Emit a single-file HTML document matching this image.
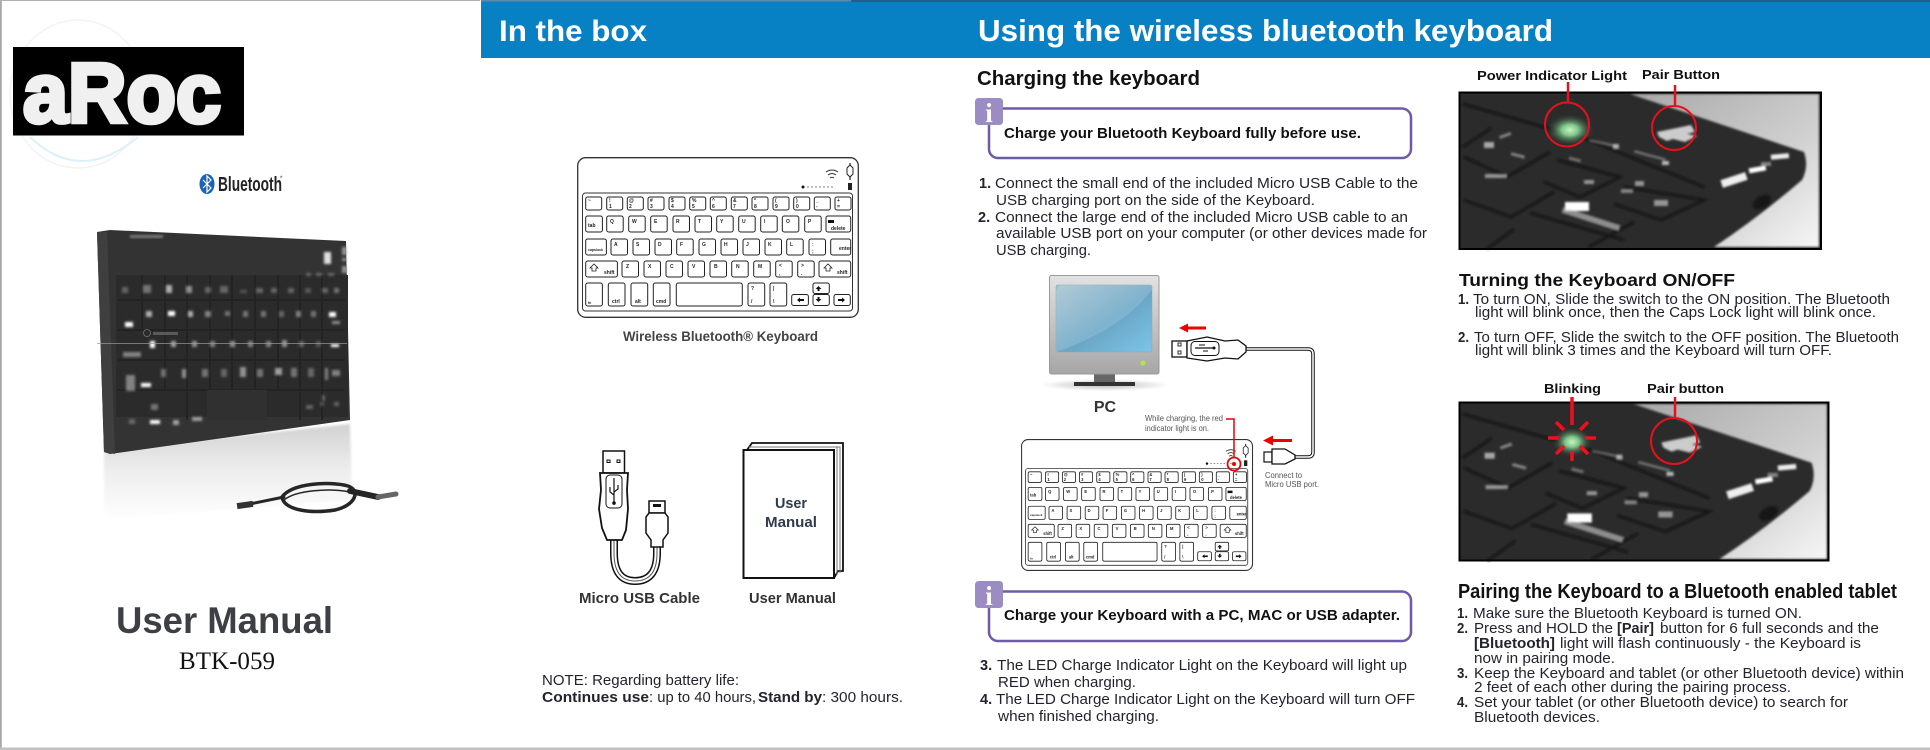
<!DOCTYPE html>
<html><head><meta charset="utf-8"><style>
html,body{margin:0;padding:0;background:#fff;width:1930px;height:750px;overflow:hidden}
svg{display:block}
text{font-family:"Liberation Sans",Arial,sans-serif;white-space:pre}
.t{font-size:14.5px;fill:#23232e}
.b{font-size:14.5px;font-weight:bold;fill:#23232e}
.h{font-weight:bold;fill:#111}
.w{font-weight:bold;fill:#fff}
.k text{font-size:5px;font-weight:bold;fill:#222}
</style></head><body>
<svg xmlns="http://www.w3.org/2000/svg" width="1930" height="750" viewBox="0 0 1930 750">
<defs>
<linearGradient id="mon" x1="0" y1="0" x2="0" y2="1"><stop offset="0" stop-color="#e2e2e2"/><stop offset="1" stop-color="#a6a6a6"/></linearGradient>
<linearGradient id="scr" x1="0" y1="0" x2="1" y2="1"><stop offset="0" stop-color="#a5c2d0"/><stop offset=".55" stop-color="#6aa6c6"/><stop offset="1" stop-color="#7cc4e8"/></linearGradient>
<linearGradient id="ref" x1="0" y1="0" x2="0" y2="1"><stop offset="0" stop-color="#d2d2d2"/><stop offset=".5" stop-color="#eeeeee"/><stop offset="1" stop-color="#fff"/></linearGradient>
<linearGradient id="lgt" x1="0" y1="0" x2="1" y2="1"><stop offset="0" stop-color="#a8a8a8"/><stop offset=".6" stop-color="#d0d0d0"/><stop offset="1" stop-color="#f6f6f6"/></linearGradient>
<radialGradient id="glow"><stop offset="0" stop-color="#c8f5c0"/><stop offset=".35" stop-color="#7ec58a"/><stop offset="1" stop-color="#2a3a2c" stop-opacity="0"/></radialGradient>
<radialGradient id="shd"><stop offset="0" stop-color="#bbb"/><stop offset="1" stop-color="#fff"/></radialGradient>
<filter id="bl1" x="-20%" y="-20%" width="140%" height="140%"><feGaussianBlur stdDeviation="1.200"/></filter>
<filter id="bl2" x="-20%" y="-20%" width="140%" height="140%"><feGaussianBlur stdDeviation="1"/></filter>

<g id="kbd">
<rect x=".7" y=".7" width="280.6" height="159.6" rx="8" fill="#fff" stroke="#333" stroke-width="1.3"/>
<rect x="5.5" y="36" width="270" height="118" rx="3" fill="#fff" stroke="#333" stroke-width="1"/>
<g class="k" fill="#fff" stroke="#222" stroke-width="1">
<rect x="8.7" y="40" width="16" height="13" rx="2"/><rect x="29.7" y="40" width="16" height="13" rx="2"/><rect x="50.3" y="40" width="16" height="13" rx="2"/><rect x="71" y="40" width="16" height="13" rx="2"/><rect x="92" y="40" width="16" height="13" rx="2"/><rect x="112.7" y="40" width="16" height="13" rx="2"/><rect x="133.3" y="40" width="16" height="13" rx="2"/><rect x="154.3" y="40" width="16" height="13" rx="2"/><rect x="175" y="40" width="16" height="13" rx="2"/><rect x="196" y="40" width="16" height="13" rx="2"/><rect x="216.7" y="40" width="16" height="13" rx="2"/><rect x="237.3" y="40" width="16" height="13" rx="2"/><rect x="258" y="40" width="16" height="13" rx="2"/>
<rect x="8.7" y="59" width="16.7" height="16" rx="2"/><rect x="29.7" y="59" width="16.5" height="16" rx="2"/><rect x="51.7" y="59" width="16.5" height="16" rx="2"/><rect x="73.7" y="59" width="16.5" height="16" rx="2"/><rect x="96" y="59" width="16.5" height="16" rx="2"/><rect x="118" y="59" width="16.5" height="16" rx="2"/><rect x="139.7" y="59" width="16.5" height="16" rx="2"/><rect x="161.7" y="59" width="16.5" height="16" rx="2"/><rect x="183.7" y="59" width="16.5" height="16" rx="2"/><rect x="205.3" y="59" width="16.5" height="16" rx="2"/><rect x="227.7" y="59" width="16.5" height="16" rx="2"/><rect x="249" y="59" width="24.7" height="16" rx="2"/>
<rect x="8.7" y="82" width="20.7" height="16" rx="2"/><rect x="34" y="82" width="16.5" height="16" rx="2"/><rect x="56" y="82" width="16.5" height="16" rx="2"/><rect x="78" y="82" width="16.5" height="16" rx="2"/><rect x="99.7" y="82" width="16.5" height="16" rx="2"/><rect x="122" y="82" width="16.5" height="16" rx="2"/><rect x="144" y="82" width="16.5" height="16" rx="2"/><rect x="166" y="82" width="16.5" height="16" rx="2"/><rect x="188" y="82" width="16.5" height="16" rx="2"/><rect x="209.7" y="82" width="16.5" height="16" rx="2"/><rect x="232" y="82" width="16.5" height="16" rx="2"/><rect x="253.7" y="82" width="20" height="16" rx="2"/>
<rect x="8.7" y="104" width="31.7" height="16" rx="2"/><rect x="45" y="104" width="16.5" height="16" rx="2"/><rect x="67" y="104" width="16.5" height="16" rx="2"/><rect x="89" y="104" width="16.5" height="16" rx="2"/><rect x="111" y="104" width="16.5" height="16" rx="2"/><rect x="133" y="104" width="16.5" height="16" rx="2"/><rect x="154.7" y="104" width="16.5" height="16" rx="2"/><rect x="176.7" y="104" width="16.5" height="16" rx="2"/><rect x="198.7" y="104" width="16.5" height="16" rx="2"/><rect x="220.7" y="104" width="16.5" height="16" rx="2"/><rect x="242" y="104" width="31.7" height="16" rx="2"/>
<rect x="8.7" y="126" width="16.7" height="23" rx="2"/><rect x="31.3" y="126" width="16.7" height="23" rx="2"/><rect x="54" y="126" width="16.7" height="23" rx="2"/><rect x="76.3" y="126" width="16.7" height="23" rx="2"/><rect x="99.3" y="126" width="66" height="23" rx="2"/><rect x="171" y="126" width="16.7" height="23" rx="2"/><rect x="193" y="126" width="16.7" height="23" rx="2"/><rect x="214.7" y="137.5" width="16.7" height="11" rx="2"/><rect x="236" y="126" width="16.3" height="10.5" rx="2"/><rect x="236" y="137.5" width="16.3" height="11" rx="2"/><rect x="257" y="137.5" width="16.3" height="11" rx="2"/>
<g stroke="none">
<text x="11" y="45">~</text><text x="32" y="45">!</text><text x="32" y="51">1</text><text x="52" y="45">@</text><text x="52" y="51">2</text><text x="73" y="45">#</text><text x="73" y="51">3</text><text x="94" y="45">$</text><text x="94" y="51">4</text><text x="115" y="45">%</text><text x="115" y="51">5</text><text x="135" y="45">^</text><text x="135" y="51">6</text><text x="156" y="45">&amp;</text><text x="156" y="51">7</text><text x="177" y="45">*</text><text x="177" y="51">8</text><text x="198" y="45">(</text><text x="198" y="51">9</text><text x="219" y="45">)</text><text x="219" y="51">0</text><text x="239" y="45">_</text><text x="239" y="51">-</text><text x="260" y="45">+</text><text x="260" y="51">=</text>
<text x="11" y="70">tab</text>
<text x="33" y="66">Q</text><text x="55" y="66">W</text><text x="77" y="66">E</text><text x="99" y="66">R</text><text x="121" y="66">T</text><text x="143" y="66">Y</text><text x="165" y="66">U</text><text x="187" y="66">I</text><text x="209" y="66">O</text><text x="231" y="66">P</text>
<text x="254" y="73">delete</text>
<text x="11" y="94" style="font-size:3.5px">capslock</text>
<text x="37" y="89">A</text><text x="59" y="89">S</text><text x="81" y="89">D</text><text x="103" y="89">F</text><text x="125" y="89">G</text><text x="147" y="89">H</text><text x="169" y="89">J</text><text x="191" y="89">K</text><text x="213" y="89">L</text><text x="235" y="89">:</text><text x="235" y="96">;</text><text x="262" y="93">enter</text>
<text x="27" y="117">shift</text><text x="49" y="111">Z</text><text x="71" y="111">X</text><text x="93" y="111">C</text><text x="115" y="111">V</text><text x="137" y="111">B</text><text x="159" y="111">N</text><text x="181" y="111">M</text><text x="202" y="110">&lt;</text><text x="202" y="118">,</text><text x="224" y="110">&gt;</text><text x="224" y="118">.</text><text x="260" y="117">shift</text>
<text x="35" y="146">ctrl</text><text x="58" y="146">alt</text><text x="79" y="146">cmd</text><text x="174" y="133">?</text><text x="174" y="146">/</text><text x="196" y="133">|</text><text x="196" y="146">\</text><text x="11" y="147" style="font-size:3.5px">fn</text>
<rect x="251" y="63" width="6" height="3" fill="#111"/>
<path d="M13 111l4-4 4 4h-2v3h-4v-3z" fill="none" stroke="#222" stroke-width=".8"/>
<path d="M247 111l4-4 4 4h-2v3h-4v-3z" fill="none" stroke="#222" stroke-width=".8"/>
<path d="M220 143l3-2.500v5zM241.500 129l3 3h-6zM244.500 142h-6l3 3zM268 143l-3-2.500v5z" fill="#111"/>
<rect x="223" y="142" width="4" height="2" fill="#111"/><rect x="261" y="142" width="4" height="2" fill="#111"/>
<rect x="240.500" y="132" width="2" height="2" fill="#111"/><rect x="240.500" y="140" width="2" height="2" fill="#111"/>
</g>
</g>
<path d="M249 15q6-4 12 0M251 18q4-3 8 0M253 21q2-1.500 4 0" fill="none" stroke="#333" stroke-width="1"/>
<circle cx="226" cy="30" r="1.500" fill="#111"/><path d="M230 30h27" stroke="#555" stroke-width=".8" stroke-dasharray="2 2"/>
<rect x="271" y="26" width="4" height="7" fill="#222"/>
<path d="M273 6v17" stroke="#222" stroke-width="1.200"/><path d="M270 11l3-3 3 3v6l-3 3-3-3z" fill="#fff" stroke="#222" stroke-width="1"/>
</g>

<g id="photo">
<rect width="362" height="157" fill="#2b2b2b"/>
<path d="M171 2L345 60Q350 75 343 88Q300 125 255 155H360V2Z" fill="url(#lgt)" filter="url(#bl2)"/>
<g fill="none" stroke="#101010" stroke-width="2.500" opacity=".75" filter="url(#bl2)">
<path d="M4 12L130 48L245 95"/>
<path d="M4 55L32 36"/>
<path d="M91 60L48 85L5 65"/>
<path d="M98 68L161 85L121 105L85 90"/>
<path d="M165 95L245 108L202 128L155 112"/>
<path d="M95 100L52 125L5 108"/>
<path d="M71 121L165 148"/>
<path d="M55 137L28 157"/>
<path d="M175 130L130 155"/>
</g>
<g fill="#dcdcdc" filter="url(#bl2)">
<rect x="25" y="50" width="10" height="6" opacity=".7"/><rect x="40" y="42" width="12" height="3" opacity=".5" transform="rotate(-20 46 43)"/>
<rect x="52" y="62" width="14" height="3" opacity=".5" transform="rotate(15 59 63)"/>
<rect x="26" y="82" width="22" height="4" opacity=".6"/>
<rect x="110" y="66" width="12" height="3" opacity=".4" transform="rotate(15 116 67)"/><rect x="125" y="88" width="10" height="4" opacity=".6"/>
<rect x="176" y="89" width="9" height="5" opacity=".6"/><rect x="162" y="97" width="12" height="4" opacity=".5"/><rect x="195" y="108" width="14" height="6" opacity=".6"/>
<rect x="106" y="110" width="24" height="9" fill="#fff"/>
<rect x="102" y="124" width="60" height="6" opacity=".55" transform="rotate(18 132 127)"/>
<rect x="130" y="50" width="28" height="2.500" opacity=".35" transform="rotate(12 144 51)"/><rect x="154" y="52" width="6" height="5" opacity=".7"/>
<rect x="175" y="62" width="32" height="2.500" opacity=".4" transform="rotate(15 190 63)"/><rect x="203" y="69" width="7" height="4" opacity=".8"/>
<rect x="262" y="84" width="26" height="8" fill="#eee" transform="rotate(-18 275 88)"/><rect x="290" y="75" width="17" height="5" fill="#fff" transform="rotate(-10 298 78)"/><rect x="312" y="62" width="18" height="5" fill="#eee" transform="rotate(-5 320 65)"/><rect x="302" y="70" width="10" height="4" opacity=".5"/>
</g>
<ellipse cx="303" cy="110" rx="10" ry="6" fill="#161616" transform="rotate(-30 303 110)" filter="url(#bl2)"/>
<g fill="#f4f4f4" filter="url(#bl2)">
<path d="M198 40L232 33L236 40L228 42L238 44L226 50L214 47L208 49L200 45Z" opacity=".8"/>
</g>
</g>
</defs>

<!-- frame -->
<rect width="1930" height="750" fill="#fff"/>
<rect x="0" y="0" width="1.800" height="750" fill="#a8a8a8"/>
<rect x="0" y="0" width="480" height="1" fill="#b0b0b0"/>
<rect x="0" y="747.500" width="1930" height="2.500" fill="#c0c0c0"/>

<!-- COVER -->
<ellipse cx="78" cy="94" rx="68" ry="74" fill="none" stroke="#f3f3f3" stroke-width="1.500"/>
<path d="M30 137Q80 185 138 137" fill="none" stroke="#dcf0fa" stroke-width="2"/>
<rect x="13" y="47" width="231" height="88.500" fill="#000"/>
<text x="23" y="122" font-size="84" font-weight="bold" fill="#f0f0f0" stroke="#f0f0f0" stroke-width="4.500" textLength="198" lengthAdjust="spacingAndGlyphs">aRoc</text>

<ellipse cx="207" cy="184" rx="7.500" ry="10" fill="#1a63b8"/>
<path d="M203 180l8 8-4 4v-16l4 4-8 8" fill="none" stroke="#fff" stroke-width="1.200"/>
<text x="218" y="191" font-size="20" font-weight="bold" fill="#222" textLength="64" lengthAdjust="spacingAndGlyphs">Bluetooth</text>
<text x="280" y="180" font-size="6" fill="#222">*</text>

<polygon points="104,450 350,424 352,500 104,520" fill="url(#ref)" filter="url(#bl1)"/>
<polygon points="97,232 110,230 346,241 350,420 110,454 104,452" fill="#333"/>
<polygon points="97,232 107,232 115,454 104,452" fill="#3f3f3f"/>
<rect x="116" y="275" width="232" height="142" fill="#2b2b2b"/>
<g fill="none" stroke="#232323" stroke-width="2">
<path d="M118 300H345M118 330H345M118 360H345M118 390H345"/>
<path d="M142 275V330M165 275V390M187 275V420M210 275V390M232 275V390M255 275V420M278 275V390M300 275V420M322 275V420"/>
</g>
<rect x="207" y="390" width="60" height="30" fill="#303030"/>
<g fill="#bcbcbc" filter="url(#bl1)">
<rect x="122" y="287" width="6" height="6" opacity=".4"/><rect x="143" y="285" width="8" height="8" opacity=".5"/><rect x="166" y="285" width="6" height="8" opacity=".9"/><rect x="186" y="286" width="6" height="7" opacity=".7"/><rect x="205" y="287" width="6" height="6" opacity=".4"/><rect x="220" y="286" width="8" height="7" opacity=".4"/><rect x="240" y="290" width="7" height="3" opacity=".3"/><rect x="256" y="288" width="7" height="5" opacity=".4"/><rect x="271" y="288" width="6" height="5" opacity=".4"/><rect x="288" y="288" width="6" height="5" opacity=".4"/><rect x="305" y="288" width="6" height="5" opacity=".3"/><rect x="322" y="288" width="6" height="5" opacity=".4"/><rect x="334" y="288" width="5" height="5" opacity=".5"/>
<rect x="125" y="322" width="8" height="5" fill="#fff"/><rect x="146" y="311" width="6" height="6" opacity=".9"/><rect x="168" y="311" width="7" height="5" fill="#fff"/><rect x="188" y="311" width="5" height="6" opacity=".9"/><rect x="205" y="311" width="6" height="6" opacity=".6"/><rect x="225" y="311" width="5" height="5" opacity=".5"/><rect x="243" y="311" width="5" height="6" opacity=".5"/><rect x="261" y="311" width="5" height="6" opacity=".5"/><rect x="279" y="311" width="5" height="6" opacity=".4"/><rect x="296" y="311" width="5" height="6" opacity=".6"/><rect x="311" y="311" width="5" height="6" opacity=".5"/><rect x="329" y="312" width="7" height="5" fill="#fff"/><rect x="332" y="321" width="8" height="3" opacity=".7"/>
<rect x="123" y="352" width="18" height="5" opacity=".6"/><rect x="150" y="341" width="5" height="7" fill="#fff"/><rect x="171" y="341" width="5" height="6" opacity=".8"/><rect x="192" y="341" width="5" height="6" opacity=".7"/><rect x="210" y="341" width="5" height="6" opacity=".6"/><rect x="230" y="341" width="5" height="6" opacity=".7"/><rect x="248" y="341" width="5" height="6" opacity=".6"/><rect x="266" y="341" width="5" height="6" opacity=".6"/><rect x="282" y="340" width="5" height="7" opacity=".7"/><rect x="299" y="341" width="5" height="6" opacity=".4"/><rect x="316" y="341" width="5" height="6" opacity=".3"/><rect x="331" y="344" width="8" height="3" fill="#fff"/>
<rect x="161" y="369" width="5" height="8" opacity=".5"/><rect x="182" y="369" width="4" height="9" opacity=".7"/><rect x="202" y="369" width="6" height="8" opacity=".5"/><rect x="221" y="369" width="6" height="8" opacity=".4"/><rect x="240" y="367" width="6" height="10" opacity=".7"/><rect x="257" y="369" width="6" height="8" opacity=".5"/><rect x="275" y="368" width="7" height="7" opacity=".8"/><rect x="291" y="368" width="6" height="9" opacity=".5"/><rect x="308" y="368" width="6" height="9" opacity=".4"/><rect x="325" y="368" width="3" height="12" opacity=".6"/><rect x="332" y="370" width="8" height="6" opacity=".6"/>
<rect x="126" y="375" width="9" height="16" opacity=".6"/><rect x="141" y="383" width="10" height="4" fill="#fff"/>
<rect x="129" y="419" width="6" height="5" opacity=".4"/><rect x="151" y="404" width="7" height="6" opacity=".5"/><rect x="150" y="420" width="10" height="4" fill="#fff"/><rect x="173" y="420" width="6" height="5" opacity=".8"/><rect x="192" y="417" width="10" height="4" opacity=".8"/><rect x="306" y="405" width="7" height="4" opacity=".4"/><rect x="320" y="402" width="4" height="4" opacity=".3"/><rect x="334" y="402" width="5" height="4" opacity=".4"/><rect x="322" y="395" width="3" height="6" opacity=".4"/>
<rect x="324" y="252" width="7" height="12" fill="#e0e0e0"/><rect x="306" y="273" width="5" height="3" opacity=".4"/><rect x="316" y="273" width="6" height="3" opacity=".4"/><rect x="328" y="273" width="6" height="3" opacity=".4"/>
<rect x="342" y="247" width="5" height="8" opacity=".7"/><rect x="342" y="258" width="5" height="3" opacity=".7"/><rect x="342" y="266" width="5" height="7" opacity=".7"/>
</g>
<rect x="97" y="343" width="250" height=".7" fill="#9a9a9a"/>
<circle cx="147" cy="333" r="3.500" fill="none" stroke="#777" stroke-width=".8"/><rect x="153" y="332" width="25" height="3" fill="#5a5a5a"/>
<rect x="130" y="235" width="33" height="3" fill="#777" filter="url(#bl2)"/>
<g fill="none" stroke="#262626" stroke-linecap="round">
<path d="M245 505L284 497" stroke-width="3"/>
<path d="M282 497C292 483 330 481 348 486C362 491 354 506 335 510C310 514 284 510 282 497Z" stroke-width="3.500"/>
<path d="M284 500C296 490 330 488 350 492" stroke-width="1.500"/>
<path d="M350 491L378 497" stroke-width="6"/>
<path d="M378 497L396 494" stroke="#666" stroke-width="5"/>
</g>
<rect x="237" y="502" width="16" height="6" fill="#333" transform="rotate(-8 245 505)"/>

<text x="116" y="633" font-size="37" font-weight="bold" fill="#3d3f44" textLength="217" lengthAdjust="spacingAndGlyphs">User Manual</text>
<text x="179" y="669" font-size="25" fill="#111" style='font-family:"Liberation Serif",serif' textLength="96" lengthAdjust="spacingAndGlyphs">BTK-059</text>

<!-- BANDS -->
<rect x="481" y="0" width="1449" height="58" fill="#0880c4"/>
<rect x="481" y="0" width="370" height="1.500" fill="#5f8aa8"/>
<rect x="851" y="0" width="1079" height="2" fill="#1f5f8e"/>
<text class="w" x="499" y="41" font-size="30" textLength="148" lengthAdjust="spacingAndGlyphs">In the box</text>
<text class="w" x="978" y="41" font-size="31" textLength="575" lengthAdjust="spacingAndGlyphs">Using the wireless bluetooth keyboard</text>

<!-- IN THE BOX -->
<use href="#kbd" x="577" y="157"/>
<text x="623" y="341" font-size="14" font-weight="bold" fill="#444" textLength="195" lengthAdjust="spacingAndGlyphs">Wireless Bluetooth® Keyboard</text>

<path d="M614 540V553Q614 581 635 581Q657 581 657 553V547" fill="none" stroke="#111" stroke-width="8"/>
<path d="M614 540V553Q614 581 635 581Q657 581 657 553V547" fill="none" stroke="#fff" stroke-width="5"/>
<path d="M614 540V553Q614 581 635 581Q657 581 657 553V547" fill="none" stroke="#555" stroke-width="1"/>
<rect x="603" y="451" width="21.500" height="22" fill="#fff" stroke="#111" stroke-width="1.500"/>
<rect x="607" y="460" width="3" height="2.500" fill="none" stroke="#111"/><rect x="617" y="460" width="3" height="2.500" fill="none" stroke="#111"/>
<path d="M600 473H628L627 490L628 509L626 530L622 540H607L602 528L599 509L601 490Z" fill="#fff" stroke="#111" stroke-width="1.800"/>
<rect x="606" y="475" width="16" height="33" rx="4" fill="#fff" stroke="#111" stroke-width="1"/>
<path d="M614 478V505M610 487v5l4 3M618 485v4l-4 3" fill="none" stroke="#111" stroke-width="1.200"/><circle cx="614" cy="503" r="1.800" fill="#111"/>
<rect x="649" y="501" width="16" height="12" fill="#fff" stroke="#111" stroke-width="1.500"/><rect x="653" y="504" width="8" height="3" fill="#111"/>
<path d="M649 513H665L668 517V533L663 540V547H651V540L646 533V517Z" fill="#fff" stroke="#111" stroke-width="1.500"/>

<path d="M747 450L752 443H843V571H838L834 578" fill="#fff" stroke="#111" stroke-width="1.800"/>
<path d="M749 447H840V573M837 447V575" fill="none" stroke="#777" stroke-width="1"/>
<rect x="743.500" y="450" width="90.500" height="128" fill="#fff" stroke="#111" stroke-width="2"/>
<text x="791" y="508" text-anchor="middle" font-size="15" font-weight="bold" fill="#2f3b4c" textLength="32" lengthAdjust="spacingAndGlyphs">User</text>
<text x="791" y="527" text-anchor="middle" font-size="15" font-weight="bold" fill="#2f3b4c" textLength="52" lengthAdjust="spacingAndGlyphs">Manual</text>
<text x="579" y="603" font-size="15" font-weight="bold" fill="#333" textLength="121" lengthAdjust="spacingAndGlyphs">Micro USB Cable</text>
<text x="749" y="603" font-size="15" font-weight="bold" fill="#333" textLength="87" lengthAdjust="spacingAndGlyphs">User Manual</text>
<text class="t" x="542" y="685" textLength="197" lengthAdjust="spacingAndGlyphs" fill="#333">NOTE: Regarding battery life:</text>
<text class="b" x="542" y="702" textLength="107" lengthAdjust="spacingAndGlyphs">Continues use</text>
<text class="t" x="649" y="702" textLength="107" lengthAdjust="spacingAndGlyphs">: up to 40 hours,</text>
<text class="b" x="758" y="702" textLength="64" lengthAdjust="spacingAndGlyphs">Stand by</text>
<text class="t" x="822" y="702" textLength="81" lengthAdjust="spacingAndGlyphs">: 300 hours.</text>

<!-- CHARGING -->
<text class="h" x="977" y="85" font-size="20" textLength="223" lengthAdjust="spacingAndGlyphs">Charging the keyboard</text>
<rect x="989" y="108.500" width="422" height="49.500" rx="9" fill="#fff" stroke="#6f5aa8" stroke-width="2.500"/>
<rect x="975" y="98" width="28" height="27" rx="3.500" fill="#9b8cc4"/>
<text x="989" y="122" text-anchor="middle" font-size="27" font-weight="bold" fill="#fff" style='font-family:"Liberation Serif",serif'>i</text>
<text class="h" x="1004" y="138" font-size="14.500" textLength="357" lengthAdjust="spacingAndGlyphs">Charge your Bluetooth Keyboard fully before use.</text>

<text class="b" x="979" y="188">1.</text><text class="t" x="995" y="188" textLength="423" lengthAdjust="spacingAndGlyphs">Connect the small end of the included Micro USB Cable to the</text>
<text class="t" x="996" y="205" textLength="319" lengthAdjust="spacingAndGlyphs">USB charging port on the side of the Keyboard.</text>
<text class="b" x="978" y="222">2.</text><text class="t" x="995" y="222" textLength="413" lengthAdjust="spacingAndGlyphs">Connect the large end of the included Micro USB cable to an</text>
<text class="t" x="996" y="238" textLength="431" lengthAdjust="spacingAndGlyphs">available USB port on your computer (or other devices made for</text>
<text class="t" x="996" y="255" textLength="95" lengthAdjust="spacingAndGlyphs">USB charging.</text>

<ellipse cx="1105" cy="385" rx="65" ry="6" fill="url(#shd)"/>
<rect x="1094" y="372" width="21" height="11" fill="#666"/>
<rect x="1074" y="382" width="61" height="4" fill="#333"/>
<rect x="1049.500" y="275.500" width="109.500" height="98.500" rx="2" fill="url(#mon)" stroke="#999"/>
<rect x="1056" y="285" width="96" height="67" rx="1.500" fill="url(#scr)" stroke="#8aa"  stroke-width=".5"/>
<path d="M1056 352Q1120 330 1152 290V285H1060L1056 290Z" fill="#fff" opacity=".14"/>
<circle cx="1143" cy="363" r="2.500" fill="#b7e34a"/>
<text x="1105" y="412" text-anchor="middle" font-size="16" font-weight="bold" fill="#333">PC</text>

<path d="M1179 328l9-4.500v3H1206v3H1188v3z" fill="#e00"/>
<path d="M1245 349H1308Q1313 349 1313 354V452Q1313 457 1308 457H1295" fill="none" stroke="#111" stroke-width="3.500"/>
<path d="M1245 349H1308Q1313 349 1313 354V452Q1313 457 1308 457H1295" fill="none" stroke="#fff" stroke-width="1.500"/>
<rect x="1172" y="341" width="15" height="16" fill="#fff" stroke="#111" stroke-width="1.300"/>
<rect x="1178" y="343" width="3" height="3" fill="none" stroke="#333"/><rect x="1178" y="351" width="3" height="3" fill="none" stroke="#333"/>
<path d="M1187 341L1207 337L1225 341L1238 340L1246 346V352L1238 359L1225 358L1207 361L1187 358Z" fill="#fff" stroke="#111" stroke-width="1.300"/>
<rect x="1191" y="341.500" width="28" height="14" rx="4" fill="#fff" stroke="#111"/>
<path d="M1195 348H1214" stroke="#111" stroke-width="1.200"/><circle cx="1214" cy="348" r="1.500" fill="#111"/><path d="M1199 345h6M1203 351h5" stroke="#111"/>

<text x="1145" y="421" font-size="8.500" fill="#555" textLength="78" lengthAdjust="spacingAndGlyphs">While charging, the red</text>
<text x="1145" y="431" font-size="8.500" fill="#555" textLength="64" lengthAdjust="spacingAndGlyphs">indicator light is on.</text>
<use href="#kbd" transform="translate(1021 439) scale(.823 .82)"/>
<path d="M1226 419H1234V458" fill="none" stroke="#e00" stroke-width="1.500"/>
<circle cx="1234" cy="464" r="6.500" fill="none" stroke="#e00" stroke-width="1.800"/><circle cx="1234" cy="464" r="2" fill="#e00"/>
<path d="M1263 440.500l10-5v3.500H1292v3H1273v3.500z" fill="#e00"/>
<rect x="1264" y="452" width="8" height="10" fill="#fff" stroke="#111" stroke-width="1.200"/>
<path d="M1272 449H1285L1295 455V459L1285 464H1272Z" fill="#fff" stroke="#111" stroke-width="1.300"/>
<text x="1265" y="478" font-size="8.500" fill="#555" textLength="37" lengthAdjust="spacingAndGlyphs">Connect to</text>
<text x="1265" y="487" font-size="8.500" fill="#555" textLength="54" lengthAdjust="spacingAndGlyphs">Micro USB port.</text>

<rect x="989" y="591.500" width="422" height="49.500" rx="9" fill="#fff" stroke="#6f5aa8" stroke-width="2.500"/>
<rect x="975" y="581" width="28" height="27" rx="3.500" fill="#9b8cc4"/>
<text x="989" y="605" text-anchor="middle" font-size="27" font-weight="bold" fill="#fff" style='font-family:"Liberation Serif",serif'>i</text>
<text class="h" x="1004" y="620" font-size="14.500" textLength="396" lengthAdjust="spacingAndGlyphs">Charge your Keyboard with a PC, MAC or USB adapter.</text>

<text class="b" x="980" y="670">3.</text><text class="t" x="997" y="670" textLength="410" lengthAdjust="spacingAndGlyphs">The LED Charge Indicator Light on the Keyboard will light up</text>
<text class="t" x="998" y="687" textLength="138" lengthAdjust="spacingAndGlyphs">RED when charging.</text>
<text class="b" x="980" y="704">4.</text><text class="t" x="996" y="704" textLength="419" lengthAdjust="spacingAndGlyphs">The LED Charge Indicator Light on the Keyboard will turn OFF</text>
<text class="t" x="998" y="721" textLength="161" lengthAdjust="spacingAndGlyphs">when finished charging.</text>

<!-- RIGHT COLUMN -->
<text class="h" x="1477" y="80" font-size="13" textLength="150" lengthAdjust="spacingAndGlyphs">Power Indicator Light</text>
<text class="h" x="1642" y="79" font-size="13" textLength="78" lengthAdjust="spacingAndGlyphs">Pair Button</text>
<use href="#photo" x="1459" y="92"/>
<ellipse cx="1570" cy="130" rx="24" ry="16" fill="url(#glow)"/>
<rect x="1459.500" y="92.500" width="361.500" height="156.500" fill="none" stroke="#000" stroke-width="2"/>
<path d="M1568 82V103M1675 85V106" stroke="#e8101c" stroke-width="2.500"/>
<circle cx="1567" cy="124.500" r="22" fill="none" stroke="#e8101c" stroke-width="2"/>
<circle cx="1674" cy="128" r="22" fill="none" stroke="#e8101c" stroke-width="2"/>

<text class="h" x="1459" y="286" font-size="17.500" textLength="276" lengthAdjust="spacingAndGlyphs">Turning the Keyboard ON/OFF</text>
<text class="b" x="1458" y="304" textLength="11" lengthAdjust="spacingAndGlyphs">1.</text><text class="t" x="1473" y="304" textLength="417" lengthAdjust="spacingAndGlyphs">To turn ON, Slide the switch to the ON position. The Bluetooth</text>
<text class="t" x="1475" y="317" textLength="401" lengthAdjust="spacingAndGlyphs">light will blink once, then the Caps Lock light will blink once.</text>
<text class="b" x="1458" y="342" textLength="11" lengthAdjust="spacingAndGlyphs">2.</text><text class="t" x="1474" y="342" textLength="425" lengthAdjust="spacingAndGlyphs">To turn OFF, Slide the switch to the OFF position. The Bluetooth</text>
<text class="t" x="1475" y="355" textLength="357" lengthAdjust="spacingAndGlyphs">light will blink 3 times and the Keyboard will turn OFF.</text>

<text class="h" x="1544" y="393" font-size="13" textLength="57" lengthAdjust="spacingAndGlyphs">Blinking</text>
<text class="h" x="1647" y="393" font-size="13" textLength="77" lengthAdjust="spacingAndGlyphs">Pair button</text>
<use href="#photo" transform="translate(1459 402) scale(1.022 1.013)"/>
<ellipse cx="1572" cy="442" rx="20" ry="15" fill="url(#glow)"/>
<rect x="1459.500" y="402.500" width="369" height="158" fill="none" stroke="#000" stroke-width="2"/>
<path d="M1572 397V425M1572 452V461M1548 438H1559M1585 438H1596M1556 422L1564 430M1588 422L1580 430M1556 454L1564 446M1588 454L1580 446" stroke="#f0101c" stroke-width="3.500"/>
<path d="M1675 397V418" stroke="#e8101c" stroke-width="2.500"/>
<circle cx="1674" cy="441" r="23" fill="none" stroke="#e8101c" stroke-width="2"/>

<text class="h" x="1458" y="598" font-size="20" textLength="439" lengthAdjust="spacingAndGlyphs">Pairing the Keyboard to a Bluetooth enabled tablet</text>
<text class="b" x="1457" y="618" textLength="11" lengthAdjust="spacingAndGlyphs">1.</text><text class="t" x="1473" y="618" textLength="329" lengthAdjust="spacingAndGlyphs">Make sure the Bluetooth Keyboard is turned ON.</text>
<text class="b" x="1457" y="633" textLength="11" lengthAdjust="spacingAndGlyphs">2.</text><text class="t" x="1474" y="633" textLength="139" lengthAdjust="spacingAndGlyphs">Press and HOLD the</text><text class="b" x="1617" y="633" textLength="37" lengthAdjust="spacingAndGlyphs">[Pair]</text><text class="t" x="1660" y="633" textLength="219" lengthAdjust="spacingAndGlyphs">button for 6 full seconds and the</text>
<text class="b" x="1474" y="648" textLength="81" lengthAdjust="spacingAndGlyphs">[Bluetooth]</text><text class="t" x="1560" y="648" textLength="301" lengthAdjust="spacingAndGlyphs">light will flash continuously - the Keyboard is</text>
<text class="t" x="1474" y="663" textLength="141" lengthAdjust="spacingAndGlyphs">now in pairing mode.</text>
<text class="b" x="1457" y="678" textLength="11" lengthAdjust="spacingAndGlyphs">3.</text><text class="t" x="1474" y="678" textLength="430" lengthAdjust="spacingAndGlyphs">Keep the Keyboard and tablet (or other Bluetooth device) within</text>
<text class="t" x="1474" y="692" textLength="317" lengthAdjust="spacingAndGlyphs">2 feet of each other during the pairing process.</text>
<text class="b" x="1457" y="707" textLength="11" lengthAdjust="spacingAndGlyphs">4.</text><text class="t" x="1474" y="707" textLength="374" lengthAdjust="spacingAndGlyphs">Set your tablet (or other Bluetooth device) to search for</text>
<text class="t" x="1474" y="722" textLength="126" lengthAdjust="spacingAndGlyphs">Bluetooth devices.</text>
</svg>
</body></html>
